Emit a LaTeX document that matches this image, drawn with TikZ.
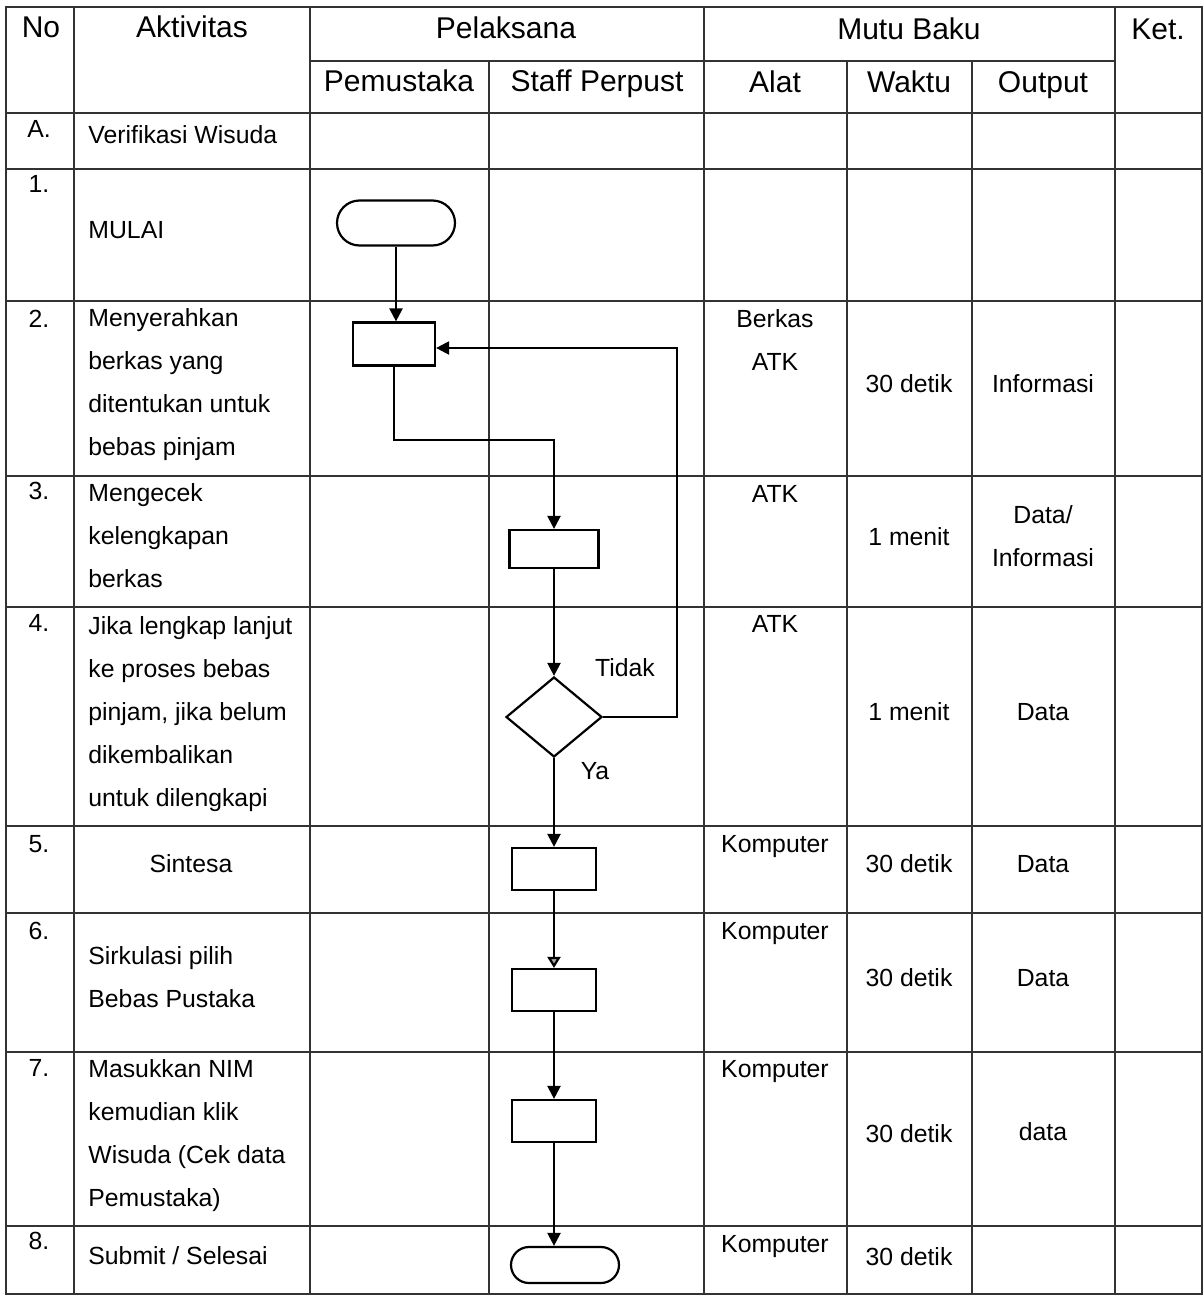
\documentclass[tikz,border=0pt]{standalone}
\usepackage{fontspec}
\setmainfont{Liberation Sans}
\usetikzlibrary{arrows.meta,shapes.geometric,shapes.misc}
\newcommand\judulfont{\fontsize{15}{18}\selectfont}
\newcommand\isifont{\fontsize{12.4}{21.5}\selectfont}

\begin{document}
\begin{tikzpicture}[x=0.5pt,y=-0.5pt,
	garis/.style={line width=0.8pt,black!80},
	judul/.style={font=\judulfont,anchor=base,inner sep=0pt},
	isi/.style={font=\isifont,anchor=base,inner sep=0pt},
	aktv/.style={font=\isifont,anchor=base west,align=left,inner sep=0pt},
	proses/.style={draw,line width=1.1pt,rectangle,minimum width=42pt,minimum height=21pt,inner sep=0pt},
	terminal/.style={draw,line width=1.1pt,rounded rectangle,minimum width=59pt,minimum height=22.5pt,inner sep=0pt},
	keputusan/.style={draw,line width=1.1pt,diamond,minimum width=48pt,minimum height=40pt,inner sep=0pt},
	panah/.style={line width=1.1pt,-{Triangle[length=6.5pt,width=6.5pt]}}]
		\useasboundingbox (0,0) rectangle (1204,1296);
		
		% tabel
		\draw[garis](6,7)--(1202,7)--(1202,1294)--(6,1294)--cycle;
		\draw[garis](310,61)--(1115,61);
		\draw[garis](6,113)--(1202,113);
		\draw[garis](6,169)--(1202,169);
		\draw[garis](6,301)--(1202,301);
		\draw[garis](6,476)--(1202,476);
		\draw[garis](6,607)--(1202,607);
		\draw[garis](6,826)--(1202,826);
		\draw[garis](6,913)--(1202,913);
		\draw[garis](6,1052)--(1202,1052);
		\draw[garis](6,1226)--(1202,1226);
		\draw[garis](74,7)--(74,1294);
		\draw[garis](310,7)--(310,1294);
		\draw[garis](489,61)--(489,1294);
		\draw[garis](704,7)--(704,1294);
		\draw[garis](847,61)--(847,1294);
		\draw[garis](972,61)--(972,1294);
		\draw[garis](1115,7)--(1115,1294);
		
		% judul kolom
		\node[judul] (hNo) at (41,37){No};
		\node[judul] (hAkt) at (192,37){Aktivitas};
		\node[judul] (hPel) at (506,38){Pelaksana};
		\node[judul] (hMutu) at (909,39){Mutu Baku};
		\node[judul] (hKet) at (1158,39){Ket.};
		\node[judul] (hPem) at (399,91){Pemustaka};
		\node[judul] (hStaff) at (597,91){Staff Perpust};
		\node[judul] (hAlat) at (775,92){Alat};
		\node[judul] (hWaktu) at (909,92){Waktu};
		\node[judul] (hOut) at (1043,92){Output};
		
		% nomor
		\node[isi] (nA) at (39,137){A.};
		\node[isi] (n1) at (39,192){1.};
		\node[isi] (n2) at (39,327){2.};
		\node[isi] (n3) at (39,499){3.};
		\node[isi] (n4) at (39,631){4.};
		\node[isi] (n5) at (39,852){5.};
		\node[isi] (n6) at (39,939){6.};
		\node[isi] (n7) at (39,1076){7.};
		\node[isi] (n8) at (39,1249){8.};
		
		% aktivitas (titik = garis dasar baris terakhir)
		\node[aktv] (aA) at (88,143){Verifikasi Wisuda};
		\node[aktv] (a1) at (88,238){MULAI};
		\node[aktv] (a2) at (88,455){Menyerahkan\\berkas yang\\ditentukan untuk\\bebas pinjam};
		\node[aktv] (a3) at (88,587){Mengecek\\kelengkapan\\berkas};
		\node[aktv] (a4) at (88,806){Jika lengkap lanjut\\ke proses bebas\\pinjam, jika belum\\dikembalikan\\untuk dilengkapi};
		\node[isi] (a5) at (191,872){Sintesa};
		\node[aktv] (a6) at (88,1007){Sirkulasi pilih\\Bebas Pustaka};
		\node[aktv] (a7) at (88,1206){Masukkan NIM\\kemudian klik\\Wisuda (Cek data\\Pemustaka)};
		\node[aktv] (a8) at (88,1264){Submit / Selesai};
		
		% alat
		\node[isi] (al2) at (775,327){Berkas};
		\node[isi] (al2b) at (775,370){ATK};
		\node[isi] (al3) at (775,502){ATK};
		\node[isi] (al4) at (775,632){ATK};
		\node[isi] (al5) at (775,852){Komputer};
		\node[isi] (al6) at (775,939){Komputer};
		\node[isi] (al7) at (775,1077){Komputer};
		\node[isi] (al8) at (775,1252){Komputer};
		
		% waktu
		\node[isi] (w2) at (909,392){30 detik};
		\node[isi] (w3) at (909,545){1 menit};
		\node[isi] (w4) at (909,720){1 menit};
		\node[isi] (w5) at (909,872){30 detik};
		\node[isi] (w6) at (909,986){30 detik};
		\node[isi] (w7) at (909,1142){30 detik};
		\node[isi] (w8) at (909,1265){30 detik};
		
		% output
		\node[isi] (o2) at (1043,392){Informasi};
		\node[isi,align=center] (o3) at (1043,566){Data/\\Informasi};
		\node[isi] (o4) at (1043,720){Data};
		\node[isi] (o5) at (1043,872){Data};
		\node[isi] (o6) at (1043,986){Data};
		\node[isi] (o7) at (1043,1140){data};
		
		% bagan alir
		\node[terminal] (mulai) at (396,223){};
		\node[proses,minimum width=41pt,minimum height=21.5pt] (p1) at (394,344){};
		\node[proses,minimum width=44.5pt,minimum height=19pt] (p2) at (554,549){};
		\node[keputusan] (cek) at (554,717){};
		\node[proses] (p3) at (554,869){};
		\node[proses] (p4) at (554,990){};
		\node[proses] (p5) at (554,1121){};
		\node[terminal,minimum width=54pt,minimum height=18pt] (selesai) at (565,1265){};
		
		\coordinate (b1) at (554,440);
		\coordinate (b2) at (677,348);
		
		\draw[panah](mulai.south)--(mulai.south |- p1.north);
		\draw[panah](p1.south)|-(b1)--(p2.north);
		\draw[panah](p2)--(cek);
		\draw[panah](cek.east)-|(b2)--(b2 -| p1.east);
		\draw[panah](cek)--(p3);
		\draw[line width=1.1pt,-{Triangle[length=5.5pt,width=6.5pt,fill=gray!70]}](p3)--(p4);
		\draw[panah](p4)--(p5);
		\draw[panah](p5.south)--(p5.south |- selesai.north);
		
		\node[isi] (tidak) at (625,676){Tidak};
		\node[isi] (ya) at (595,779){Ya};
\end{tikzpicture}
\end{document}
